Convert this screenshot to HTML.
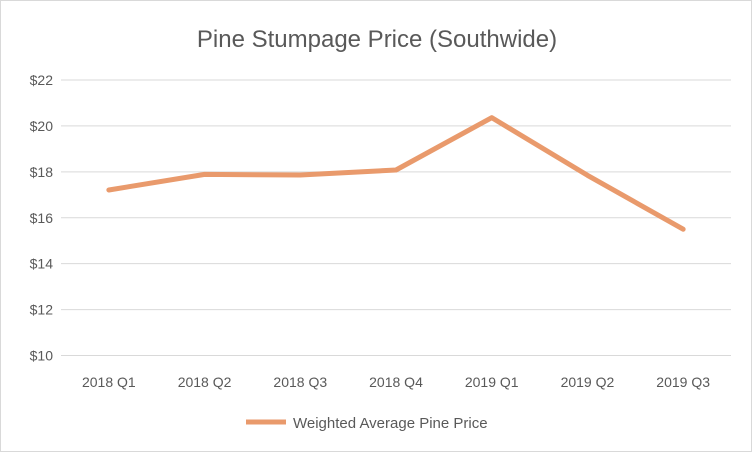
<!DOCTYPE html>
<html><head><meta charset="utf-8"><style>
body{margin:0;background:#fff;font-family:"Liberation Sans",sans-serif}
#c{position:absolute;left:0;top:0;width:750px;height:450px;border:1px solid #d9d9d9}
</style></head><body>
<div id="c">
<svg id="s" width="752" height="452">
<text x="376" y="46" text-anchor="middle" font-size="24" fill="#595959">Pine Stumpage Price (Southwide)</text>
<g id="grid"></g><g id="yl"></g><g id="xl"></g>
<polyline id="line" fill="none" stroke="#e99a6c" stroke-width="5" stroke-linejoin="round" stroke-linecap="round"/>
<line x1="245" y1="421" x2="285" y2="421" stroke="#e99a6c" stroke-width="5"/>
<text x="292" y="427" font-size="15" fill="#595959">Weighted Average Pine Price</text>
</svg></div>
<script>
const categories=["2018 Q1","2018 Q2","2018 Q3","2018 Q4","2019 Q1","2019 Q2","2019 Q3"];
const values=[17.21,17.89,17.86,18.08,20.36,17.85,15.5];
const yTicks=[10,12,14,16,18,20,22];
const ns="http://www.w3.org/2000/svg";
const L=60,R=730,T=79,B=354.5,yMin=10,yMax=22;
const y=v=>B-(v-yMin)/(yMax-yMin)*(B-T);
const x=i=>L+(i+0.5)*(R-L)/categories.length;
const mk=(t,a,p)=>{const e=document.createElementNS(ns,t);for(const k in a)e.setAttribute(k,a[k]);document.getElementById(p).appendChild(e);return e;};
yTicks.forEach(v=>{
 const g=mk("line",{x1:L,x2:R,y1:y(v),y2:y(v),stroke:"#d9d9d9","stroke-width":1},"grid");
 
 
 const t=mk("text",{x:52,y:y(v)+5,"text-anchor":"end","font-size":14,fill:"#595959"},"yl");
 t.textContent="$"+v;
 
 
});
categories.forEach((c,i)=>{
 const t=mk("text",{x:x(i),y:386,"text-anchor":"middle","font-size":14,fill:"#595959"},"xl");
 t.textContent=c;
 
 
});
document.getElementById("line").setAttribute("points",values.map((v,i)=>x(i)+","+y(v)).join(" "));
</script>
</body></html>
